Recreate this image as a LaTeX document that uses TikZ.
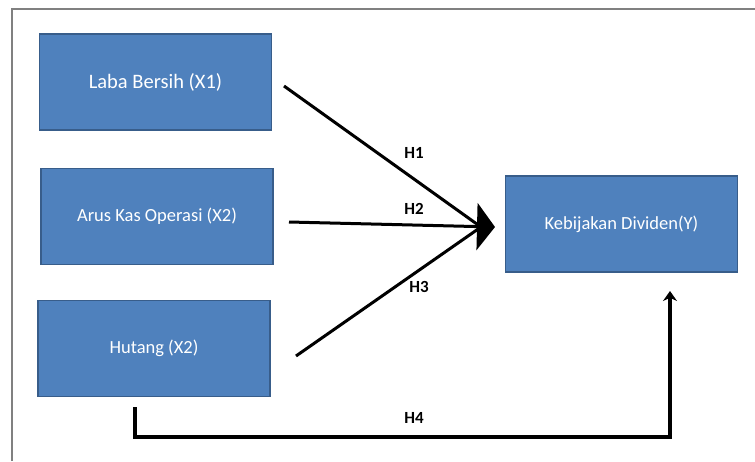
\documentclass[tikz,border=0pt]{standalone}
\usepackage{fontspec}
\setmainfont{Carlito}
\usetikzlibrary{arrows.meta,calc}
\definecolor{boxfill}{RGB}{79,129,189}
\definecolor{boxline}{RGB}{56,93,138}
\definecolor{framegray}{RGB}{128,128,128}
\tikzset{
  varbox/.style={draw=boxline, line width=1.2pt, fill=boxfill, text=white,
    minimum width=232pt, minimum height=96pt, inner sep=0pt,
    font=\fontsize{18.5}{22}\selectfont},
  hyp/.style={font=\bfseries\fontsize{17}{20}\selectfont, text=black, inner sep=0pt},
  conn/.style={line width=3pt, black},
}
\begin{document}
\begin{tikzpicture}[x=1pt,y=-1pt]
\useasboundingbox (0,0) rectangle (755,461);
% frame
\draw[framegray, line width=2pt] (12,461) -- (12,9) -- (755,9);
% boxes
\node[varbox, font=\fontsize{20.5}{24}\selectfont] (x1) at (155.5,82) {Laba Bersih (X1)};
\node[varbox] (x2) at (157,216.5) {Arus Kas Operasi (X2)};
\node[varbox] (x3) at (154,348.5) {Hutang (X2)};
\node[varbox] (y) at (621.5,224) {Kebijakan Dividen(Y)};
% connector points
\coordinate (s1) at (284,86);
\coordinate (s2) at (289,222);
\coordinate (s3) at (296,356);
\coordinate (hub) at (481,227);
\coordinate (tip) at (495,227);
\coordinate (s4) at (135,407);
\coordinate (c4a) at (135,437);
\coordinate (c4b) at (670,437);
\coordinate (e4) at (670,291);
% arrows
\draw[conn] (s1) -- (hub);
\draw[conn] (s3) -- (hub);
\draw[conn, -{Triangle[length=18pt,width=47pt]}] (s2) -- (tip);
\draw[conn, line width=3.2pt, -{Stealth[length=10pt,width=14pt]}] (s4) -- (c4a) -- (c4b) -- (e4);
% labels
\node[hyp] (h1) at (414,153) {H1};
\node[hyp] (h2) at (414,209) {H2};
\node[hyp] (h3) at (419,287) {H3};
\node[hyp] (h4) at (414,418) {H4};
\end{tikzpicture}
\end{document}
